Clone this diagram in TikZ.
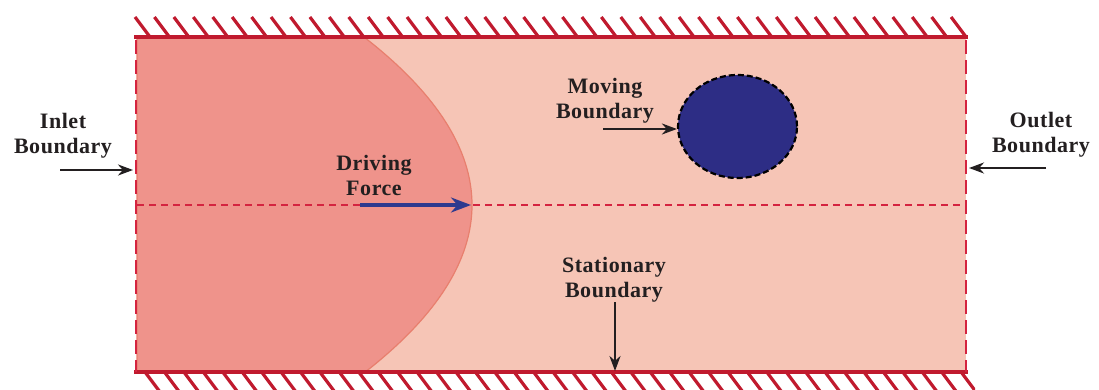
\documentclass[tikz,border=0pt]{standalone}
\usepackage{fontspec}
\setmainfont{Liberation Serif}
\usetikzlibrary{arrows.meta,shapes.geometric}
\definecolor{wallred}{HTML}{C01A2E}
\definecolor{dashred}{HTML}{D42440}
\definecolor{lightfill}{HTML}{F6C5B6}
\definecolor{darkfill}{HTML}{EF938B}
\definecolor{edgecol}{HTML}{E87F6E}
\definecolor{ballblue}{HTML}{2D2D85}
\definecolor{forceblue}{HTML}{2E3A8F}
\definecolor{txt}{HTML}{231F20}
\newfontfamily\lblfont[LetterSpace=2.5]{Liberation Serif}
\tikzset{
  lbl/.style={font=\lblfont\fontsize{22}{25}\selectfont\bfseries, text=txt, align=center, inner sep=0pt},
  wall/.style={wallred, line width=3.6pt},
  hatch/.style={wallred, line width=3.2pt},
  bnd/.style={dashred, line width=2.6pt, dash pattern=on 14pt off 6pt},
  ptr/.style={txt, line width=2.4pt, -{Stealth[length=15pt,width=11pt]}},
}
\begin{document}
\begin{tikzpicture}[x=1pt,y=-1pt]
\useasboundingbox (0,0) rectangle (1099,390);
% channel fill
\fill[lightfill] (137,37) rectangle (966,371);
% parabolic profile
\fill[darkfill, draw=edgecol, line width=1.2pt] (137,37) -- (364,37)
  .. controls (436,93) and (472,149) .. (472,205)
  .. controls (472,261) and (436,317) .. (364,373) -- (137,373) -- cycle;
% centerline
\draw[dashred, line width=1.5pt, dash pattern=on 7pt off 5pt] (137,205) -- (966,205);
% walls
\draw[wall] (134,37) -- (968,37);
\draw[wall] (134,372) -- (968,372);
\foreach \i in {0,...,42} {
  \draw[hatch] (135+19.43*\i,17) -- (150+19.43*\i,37);
}
\begin{scope}
\clip (130,372) rectangle (975,390);
\foreach \i in {0,...,42} {
  \draw[hatch] (145+19.43*\i,372) -- (160+19.43*\i,392);
}
\end{scope}
% inlet/outlet boundaries
\draw[bnd] (136,40) -- (136,372);
\draw[bnd] (966,40) -- (966,372);
% particle
\node (ball) [ellipse, minimum width=119pt, minimum height=103pt, fill=ballblue, draw=black, line width=2.2pt, dash pattern=on 6pt off 3pt, inner sep=0pt] at (737.5,126.5) {};
% labels
\node[lbl] (inlet) at (63,136) {Inlet\\Boundary};
\node[lbl] (outlet) at (1041,135) {Outlet\\Boundary};
\node[lbl] (moving) at (605,101) {Moving\\Boundary};
\node[lbl] (driving) at (374,175) {Driving\\Force};
\node[lbl] (stat) at (614,280) {Stationary\\Boundary};
% arrow endpoints
\coordinate (inA) at (60,170);
\coordinate (inB) at (133,170);
\coordinate (outA) at (1046,168);
\coordinate (outB) at (969,168);
\coordinate (movA) at (603,129);
\coordinate (stA) at (615,302);
\coordinate (stB) at (615,371);
\coordinate (drA) at (360,205);
\coordinate (drB) at (471,205);
\draw[ptr] (inA) -- (inB);
\draw[ptr] (outA) -- (outB);
\draw[ptr] (movA) -- (movA -| ball.west);
\draw[ptr] (stA) -- (stB);
\draw[forceblue, line width=3.4pt, -{Stealth[length=20pt,width=15pt]}] (drA) -- (drB);
\end{tikzpicture}
\end{document}
